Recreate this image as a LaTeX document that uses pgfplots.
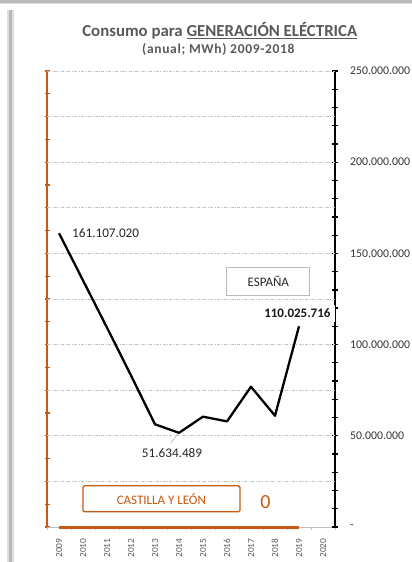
\documentclass[border=0pt]{standalone}
\usepackage{pgfplots}
\pgfplotsset{compat=1.18}
\usepackage{fontspec}
\setmainfont{Carlito}

\definecolor{cylorange}{HTML}{C55A11}
\definecolor{txtgrey}{HTML}{595959}
\definecolor{gridgrey}{HTML}{BFBFBF}

\begin{document}
\begin{tikzpicture}[x=1pt,y=1pt]
\path (0,0) rectangle (412,562);
% window frame of the screenshot
\fill[gray!25] (0,557.5) rectangle (412,559);
\fill[gray!55] (0,559) rectangle (412,562);
\fill[gray!25] (7,0) rectangle (13.5,552);
\fill[gray!55] (9,0) rectangle (11.5,552);

% Castilla y Leon (left, orange axis)
\begin{axis}[
  at={(47pt,35pt)}, anchor=south west,
  scale only axis, width=288pt, height=456pt,
  xmin=-0.5, xmax=11.5, ymin=0, ymax=250,
  axis y line*=left, axis x line*=bottom,
  clip=false,
  x axis line style={gridgrey, line width=0.6pt},
  y axis line style={cylorange, line width=1.3pt},
  tick align=center,
  major tick length=5pt, minor tick length=3pt,
  ytick={0,12.5,...,250}, yticklabels={\empty},
  y tick style={cylorange, line width=1.3pt},
  xtick={0,...,11},
  xticklabels={2009,2010,2011,2012,2013,2014,2015,2016,2017,2018,2019,2020},
  minor xtick={-0.5,0.5,...,11.5},
  major x tick style={draw=none},
  minor x tick style={gridgrey, line width=0.6pt, yshift=-1.5pt},
  xticklabel style={yshift=-9pt, rotate=90, anchor=east, inner sep=0pt,
    font=\fontsize{9.4}{10}\selectfont, text=txtgrey},
]
\addplot[cylorange, line width=3pt] coordinates {
  (0,0) (1,0) (2,0) (3,0) (4,0) (5,0) (6,0) (7,0) (8,0) (9,0) (10,0)
};
\end{axis}

% Espana (right, black axis)
\begin{axis}[
  at={(47pt,35pt)}, anchor=south west,
  scale only axis, width=288pt, height=456pt,
  xmin=-0.5, xmax=11.5, ymin=0, ymax=250000000,
  axis y line*=right, hide x axis,
  clip=false,
  scaled y ticks=false,
  y axis line style={black, line width=1.3pt},
  y tick style={black, line width=1.3pt},
  tick align=center,
  major tick length=6pt, minor tick length=6pt,
  ytick={0,50000000,100000000,150000000,200000000,250000000},
  yticklabels={-,50.000.000,100.000.000,150.000.000,200.000.000,250.000.000},
  minor tick num=4,
  yticklabel style={anchor=west, inner sep=0pt, xshift=12pt,
    font=\fontsize{11.8}{13}\selectfont, text=black!80},
  extra y ticks={25000000,50000000,75000000,100000000,125000000,150000000,175000000,200000000,225000000,250000000},
  extra y tick labels={},
  extra y tick style={grid=major, major tick length=0pt},
  grid style={gridgrey, line width=0.6pt, dash pattern=on 3pt off 1.5pt on 0.8pt off 1.5pt},
]
\addplot[black, line width=2.3pt, line join=round] coordinates {
  (0,161107020) (1,135200000) (2,109300000) (3,83100000) (4,56300000)
  (5,51634489) (6,60500000) (7,57900000) (8,76900000) (9,61000000)
  (10,110025716)
};
\coordinate (p0) at (axis cs:0,161107020);
\coordinate (p5) at (axis cs:5,51634489);
\coordinate (p10) at (axis cs:10,110025716);
\end{axis}

% data labels
\node[anchor=west, inner sep=0pt, font=\fontsize{13.2}{15}\selectfont, text=black!85]
  at ([xshift=13pt]p0) {161.107.020};
\draw[gray!70, line width=0.5pt] ([shift={(-1.5pt,-1.5pt)}]p5) -- ([shift={(-8pt,-10pt)}]p5);
\node[inner sep=0pt, font=\fontsize{13.2}{15}\selectfont, text=black!85]
  at ([shift={(-7pt,-20.7pt)}]p5) {51.634.489};
\node[fill=white, anchor=east, inner xsep=4pt, inner ysep=4pt,
  font=\fontsize{13}{15}\selectfont\bfseries, text=black!90]
  at ([shift={(35.7pt,13pt)}]p10) {110.025.716};

% titles
\node[font=\fontsize{16.8}{19}\selectfont\bfseries, text=txtgrey]
  at (219.8,531.5) {Consumo para \underline{GENERACIÓN ELÉCTRICA}};
\node[font=\fontsize{13.5}{15}\selectfont\bfseries\addfontfeature{LetterSpace=5}, text=txtgrey]
  at (218.3,512) {(anual; MWh) 2009-2018};

% series boxes
\node[draw=gray!55, line width=0.8pt, minimum width=83pt, minimum height=28pt,
  inner sep=0pt, font=\fontsize{13}{15}\selectfont, text=black!85]
  at (268.3,280.8) {ESPAÑA};
\node[draw=cylorange, line width=1.3pt, rounded corners=1.5pt,
  minimum width=157pt, minimum height=26pt, inner sep=0pt,
  font=\fontsize{13}{15}\selectfont, text=cylorange]
  at (161.4,63.2) {CASTILLA Y LEÓN};
\node[font=\fontsize{20}{24}\selectfont, text=cylorange] at (265.5,60.3) {0};
\end{tikzpicture}
\end{document}
